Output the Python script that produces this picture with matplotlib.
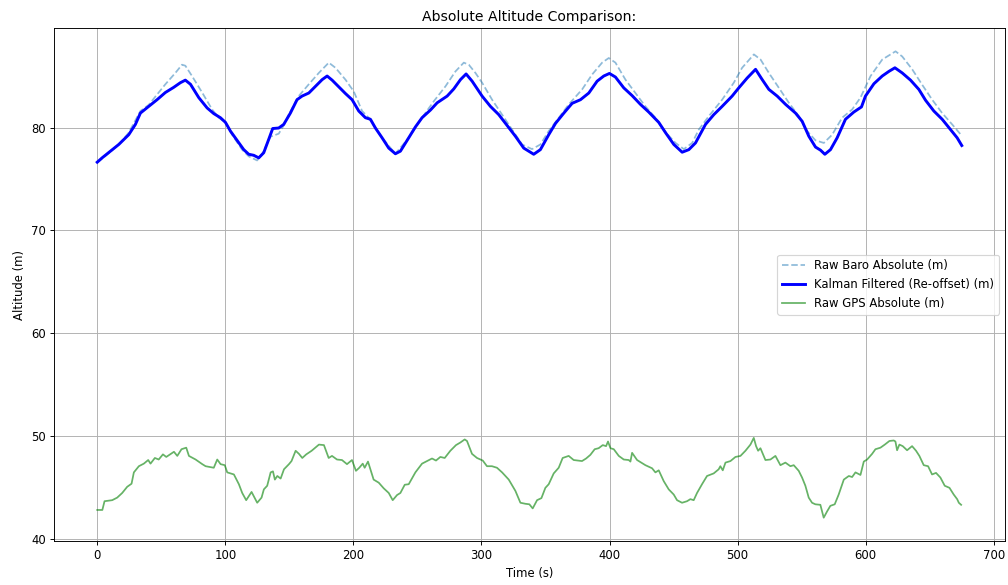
import matplotlib.pyplot as plt
import numpy as np

# Raw barometer absolute altitude (m)
baro_t = [0, 10, 18, 24.6, 33.7, 40.2, 53.2, 61, 66.2, 68.8, 74, 81.9, 89.7, 94.9, 100.1,
          105.3, 113.1, 118.3, 124.8, 128.7, 135.2, 141.7, 145.6, 149.5, 157.3, 165.2, 173,
          180.8, 186, 193.8, 200.3, 206.8, 212, 222.4, 232.8, 243.2, 253.6, 262.8, 271.9,
          279.7, 286.2, 290.1, 295.3, 300.5, 308.3, 316.1, 323.9, 331.7, 339.5, 346, 352.5,
          360.4, 368.2, 378.6, 386.4, 394.2, 399.4, 404.6, 412.4, 420.2, 428, 435.8, 443.7,
          451.5, 458, 464.5, 469.7, 477.5, 487.9, 497, 503.5, 512.7, 517.9, 524.4, 532.2,
          540, 547.8, 554.3, 560.8, 567.3, 573.8, 581.6, 589.4, 595.9, 603.8, 612.9, 623.3,
          628.5, 636.3, 644.1, 651.9, 659.7, 667.5, 675]
baro_alt = [76.6, 77.6, 78.5, 79.5, 81.6, 82.2, 84.2, 85.3, 86.1, 86.0, 85.0, 83.4, 81.75, 80.95, 80.5,
            79.3, 77.85, 77.2, 76.8, 77.4, 79.1, 79.4, 80.2, 81.25, 83.05, 84.2, 85.3,
            86.3, 85.8, 84.65, 83.5, 81.6, 80.95, 79.0, 77.45, 79.0, 80.95, 82.55, 84.0,
            85.45, 86.3, 86.1, 85.3, 84.35, 82.7, 81.25, 79.8, 78.35, 77.9, 78.35, 79.65,
            80.95, 82.25, 83.7, 85.15, 86.3, 86.75, 86.3, 84.65, 83.35, 82.05, 80.95, 79.55,
            78.5, 77.9, 78.5, 79.8, 81.1, 82.7, 84.35, 85.8, 87.1, 86.6, 85.3, 83.85,
            82.4, 81.1, 79.65, 78.75, 78.5, 79.3, 80.95, 81.75, 82.9, 85.0, 86.6, 87.4,
            86.9, 85.65, 84.15, 82.7, 81.4, 80.3, 79.2]

# Kalman filtered altitude (re-offset)
kf_t = [0, 3.8, 10.3, 16.8, 24.6, 29.8, 33.7, 40.2, 46.7, 53.2, 59.7, 64.9, 68.8, 72.8, 79.3,
        85.8, 91, 96.2, 100.1, 104, 109.2, 114.4, 118.3, 122.2, 126.1, 130, 133.9, 137,
        141.7, 145.6, 150.8, 156, 159.9, 165.2, 170.4, 175.6, 179.5, 183.4, 188.6, 193.8,
        199, 204.2, 209.4, 213.3, 217.2, 222.4, 227.6, 232.8, 236.7, 243.2, 248.4, 253.6,
        260.2, 265.4, 273.2, 278.4, 283.6, 288, 292.7, 300.5, 307, 313.5, 320, 326.5, 333,
        340.8, 346, 352.5, 357.8, 364.3, 370.8, 377.3, 383.8, 390.3, 395.5, 399.9, 404.6,
        411.1, 417.6, 424.1, 430.6, 438.4, 443.7, 450.2, 456.7, 461.9, 467.1, 474.9, 481.4,
        487.9, 495.7, 500.9, 507.4, 514, 519.2, 524.4, 530.9, 537.4, 545.2, 550.4, 555.6,
        560.8, 564.7, 568.1, 572.5, 577.7, 584.2, 590.7, 596.7, 599.8, 606.4, 612.9, 618.1,
        622.8, 628.5, 635, 641.5, 646.7, 653.2, 659.7, 666.2, 671.4, 675]
kf_alt = [76.63, 77.05, 77.7, 78.35, 79.3, 80.3, 81.4, 82.05, 82.7, 83.4, 83.9, 84.35, 84.6, 84.2, 82.9,
          81.9, 81.35, 80.95, 80.5, 79.65, 78.75, 77.85, 77.4, 77.3, 77.05, 77.55, 78.85, 79.9,
          79.95, 80.3, 81.4, 82.7, 83.05, 83.35, 84.0, 84.65, 85.0, 84.6, 83.95, 83.3,
          82.7, 81.6, 80.95, 80.8, 79.95, 79.0, 78.0, 77.45, 77.7, 79.0, 80.05, 80.95,
          81.7, 82.4, 83.05, 83.75, 84.65, 85.2, 84.5, 83.05, 82.05, 81.25, 80.2, 79.15, 78.0,
          77.4, 77.85, 79.3, 80.4, 81.4, 82.35, 82.7, 83.35, 84.5, 85.0, 85.25, 84.9,
          83.85, 83.1, 82.25, 81.5, 80.5, 79.5, 78.35, 77.6, 77.85, 78.5, 80.3, 81.25,
          82.05, 83.05, 83.85, 84.8, 85.65, 84.65, 83.7, 83.05, 82.25, 81.4, 80.6, 79.15,
          78.1, 77.8, 77.4, 77.85, 79.0, 80.8, 81.5, 82.0, 83.05, 84.25, 85.0, 85.45,
          85.8, 85.3, 84.6, 83.7, 82.65, 81.6, 80.8, 79.8, 79.0, 78.25]

# Raw GPS absolute altitude (m)
gps_t = [0, 4, 5.7, 11.7, 15.6, 19.5, 23.4, 26.8, 28.6, 32.5, 36.4, 39.8, 41.6, 45, 48, 51.3,
         53.9, 59.9, 62.5, 65.8, 69.5, 71.6, 76.8, 82, 84.6, 91, 93.7, 96.3, 99.6, 101.5,
         106.7, 110.6, 113.2, 116.3, 120.5, 124.9, 128.3, 130.1, 132.7, 135.4, 137.2, 138.7,
         140.6, 143.2, 145.8, 149.7, 151.7, 154.9, 157.5, 160.1, 163.2, 167.4, 173.1, 177,
         180.7, 183.3, 187.2, 191.1, 195, 198.9, 202, 204.6, 207.3, 208.8, 211.4, 215.8,
         219.8, 223.7, 227.6, 230.7, 234.1, 236.7, 240.1, 243.2, 248.4, 253.6, 257.5, 261.4,
         264.5, 267.9, 271.3, 275.7, 280.1, 283.5, 286.9, 288.7, 292.6, 296.5, 301, 304.3,
         308.2, 312.1, 316.1, 321.3, 326.5, 330.4, 334.3, 337.4, 340, 343.4, 346.8, 349.9,
         352.5, 356.4, 360.3, 363.4, 368.1, 372, 378.5, 381.7, 385, 388.4, 391.5, 394.7,
         397.3, 398.8, 400.7, 403.3, 407.2, 411.1, 415, 416.3, 417.6, 421.5, 428, 433.2,
         435.8, 438.4, 442.3, 446.2, 450.1, 452.7, 456.6, 460.5, 463.1, 465.7, 468.3, 472.2,
         476.1, 481.3, 485.2, 486.5, 488.4, 490.5, 494.4, 498.3, 502.2, 506.1, 510, 512.6,
         514.4, 516, 517.8, 521.7, 525.6, 529.5, 533.4, 537.3, 541.2, 543.8, 547.7, 550.3,
         552.9, 555.5, 558.1, 560.7, 564.6, 567.2, 569.8, 572.4, 575.8, 578.9, 582.9, 586.8,
         589.4, 592, 595.9, 598.5, 601.1, 605, 607.6, 611.5, 614.9, 618.5, 621.9, 623.2,
         624.5, 626.3, 628.9, 632.3, 636.2, 639.3, 641.9, 645.3, 648.7, 651.8, 654.9, 658.3,
         661.7, 665.4, 668.7, 671.4, 672.7, 674.5]
gps_alt = [42.85, 42.85, 43.7, 43.8, 44.05, 44.5, 45.1, 45.4, 46.5, 47.1, 47.35, 47.7, 47.35, 47.9, 47.75, 48.25,
           48.0, 48.5, 48.1, 48.75, 48.9, 48.1, 47.75, 47.3, 47.1, 46.95, 47.75, 47.3, 47.2, 46.5,
           46.3, 45.35, 44.5, 43.8, 44.6, 43.55, 44.05, 44.85, 45.2, 46.5, 46.6, 45.8,
           46.15, 45.9, 46.8, 47.3, 47.6, 48.6, 48.3, 47.9, 48.25, 48.6, 49.2, 49.15,
           47.9, 48.1, 47.75, 47.7, 47.3, 47.7, 46.65, 46.95, 47.35, 46.95, 47.55, 45.8,
           45.5, 44.95, 44.5, 43.8, 44.3, 44.5, 45.3, 45.35, 46.5, 47.35, 47.6, 47.85,
           47.65, 48.0, 47.9, 48.6, 49.15, 49.4, 49.7, 49.55, 48.3, 47.9, 47.65, 47.1,
           47.1, 46.95, 46.5, 45.8, 44.7, 43.55, 43.45, 43.4, 43.0, 43.8, 44.0, 45.0,
           45.35, 46.4, 46.95, 47.9, 48.1, 47.7, 47.6, 47.85, 48.2, 48.75, 48.85, 49.15,
           49.05, 49.5, 48.85, 48.75, 48.1, 47.75, 47.7, 47.55, 48.4, 47.7, 47.2, 46.9,
           46.5, 46.7, 45.65, 44.85, 44.35, 43.8, 43.55, 43.7, 43.9, 43.8, 44.5, 45.35,
           46.15, 46.4, 46.8, 47.1, 46.7, 47.45, 47.6, 48.0, 48.1, 48.6, 49.2, 49.85,
           49.05, 48.6, 48.85, 47.7, 47.75, 48.1, 47.2, 47.45, 47.1, 47.2, 46.65, 46.0,
           45.2, 44.05, 43.55, 43.4, 43.35, 42.1, 42.7, 43.25, 43.4, 44.35, 45.8, 46.15,
           46.05, 46.5, 46.25, 47.55, 47.75, 48.3, 48.75, 48.9, 49.2, 49.55, 49.6, 49.5,
           48.65, 49.2, 49.05, 48.65, 49.05, 48.6, 48.1, 47.2, 47.1, 46.3, 46.45, 46.0,
           45.2, 45.0, 44.35, 43.9, 43.55, 43.35]


fig = plt.figure(figsize=(12, 585 / 84), dpi=84)
ax = fig.add_axes([54 / 1008, 44 / 585, 951 / 1008, 513 / 585])

ax.plot(baro_t, baro_alt, '--', color='tab:blue', alpha=0.5, label='Raw Baro Absolute (m)')
ax.plot(kf_t, kf_alt, color='blue', lw=2.5, label='Kalman Filtered (Re-offset) (m)')
ax.plot(gps_t, gps_alt, color='green', alpha=0.6, label='Raw GPS Absolute (m)')

ax.set_title('Absolute Altitude Comparison:')
ax.set_xlabel('Time (s)')
ax.set_ylabel('Altitude (m)')
ax.grid(True)
ax.legend(loc='center right')

fig.savefig('out.png', dpi=84)
